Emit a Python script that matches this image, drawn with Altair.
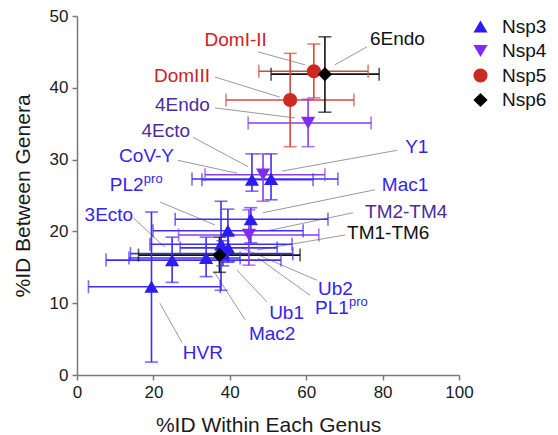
import altair as alt
import pandas as pd

# ---------------- data ----------------
groups = ["Nsp3"] * 10 + ["Nsp4"] * 3 + ["Nsp5"] * 2 + ["Nsp6"] * 2
names = ["HVR", "3Ecto", "Mac2", "PL2pro", "PL1pro", "Ub2", "Ub1", "Mac1", "CoV-Y", "Y1",
         "4Endo", "4Ecto", "TM2-TM4",
         "DomI-II", "DomIII",
         "6Endo", "TM1-TM6"]
x_within = [19.5, 24.9, 33.8, 39.5, 37.7, 39.6, 38.2, 45.5, 45.8, 50.8,
            60.5, 48.7, 45.0,
            62.0, 55.8,
            64.9, 37.3]
y_between = [12.3, 16.0, 16.3, 20.1, 18.2, 17.7, 16.9, 21.7, 27.2, 27.3,
             35.1, 27.9, 19.5,
             42.3, 38.3,
             41.9, 16.7]
x_low = [3.0, 7.6, 13.6, 19.9, 19.1, 27.0, 14.0, 25.7, 32.7, 30.1,
         44.8, 33.5, 26.6,
         47.6, 39.0,
         50.8, 16.1]
x_high = [37.5, 53.4, 42.7, 59.2, 56.3, 52.4, 56.5, 65.7, 61.8, 68.3,
          77.0, 64.9, 63.3,
          76.2, 72.5,
          79.1, 58.4]
y_low = [1.8, 12.9, 13.7, 15.7, 11.8, 15.8, 15.2, 18.4, 25.6, 24.4,
         31.8, 24.2, 15.3,
         38.6, 31.8,
         36.6, 14.3]
y_high = [22.7, 19.2, 19.2, 23.1, 24.2, 19.6, 18.7, 23.3, 30.8, 30.8,
          38.4, 30.8, 23.0,
          46.1, 44.8,
          47.1, 19.2]

# label texts and anchors (data units)
label_text = ["HVR", "3Ecto", "Mac2", "PL2", "PL1", "Ub2", "Ub1", "Mac1", "CoV-Y", "Y1",
              "4Endo", "4Ecto", "TM2-TM4",
              "DomI-II", "DomIII",
              "6Endo", "TM1-TM6"]
label_sup = ["", "", "", "pro", "pro", "", "", "", "", "",
             "", "", "",
             "", "",
             "", ""]
label_x = [27.7, 14.7, 45.0, 8.6, 62.3, 63.1, 50.3, 79.8, 25.4, 85.9,
           34.8, 29.6, 75.4,
           49.7, 34.8,
           76.7, 70.7]
label_y = [3.1, 22.3, 5.7, 26.5, 9.3, 12.0, 8.6, 26.5, 30.5, 31.8,
           37.6, 34.0, 22.7,
           46.7, 41.6,
           46.8, 19.8]
label_align = ["left", "right", "left", "left", "left", "left", "left", "left", "right", "left",
               "right", "right", "left",
               "right", "right",
               "left", "left"]
# leader lines (data units)
line_x1 = [27.5, 14.7, 44.0, 21.7, 61.0, 62.8, 49.7, 78.0, 26.4, 83.8,
           36.1, 30.4, 72.3,
           47.4, 36.1,
           75.9, 70.2]
line_y1 = [4.5, 21.9, 7.7, 24.1, 11.1, 13.2, 10.2, 25.8, 29.9, 31.3,
           37.2, 33.1, 22.6,
           45.0, 41.5,
           45.7, 19.5]
line_x2 = [21.7, 23.0, 36.1, 36.1, 47.4, 42.7, 41.9, 48.7, 41.9, 53.7,
           57.1, 44.8, 50.0,
           59.7, 53.1,
           67.5, 47.1]
line_y2 = [10.0, 17.8, 14.2, 20.9, 16.3, 17.8, 14.6, 22.6, 28.1, 28.4,
           35.8, 29.0, 20.1,
           43.2, 38.7,
           43.2, 17.4]

group_order = ["Nsp3", "Nsp4", "Nsp5", "Nsp6"]
marker_colors = ["#2d1cf0", "#7f2cf2", "#cc2a20", "#000000"]
bar_colors = {"Nsp3": "#3f2ef5", "Nsp4": "#8a3af4", "Nsp5": "#d44a3e", "Nsp6": "#111111"}
text_colors = {"Nsp3": "#3623f0", "Nsp4": "#4d2a9e", "Nsp5": "#cc2222", "Nsp6": "#111111"}
shapes = ["triangle-up", "triangle-down", "circle", "diamond"]
sizes = [200, 200, 120, 170]

# ---------------- tables ----------------
pts = pd.DataFrame({
    "group": groups, "name": names, "x": x_within, "y": y_between,
    "xlo": x_low, "xhi": x_high, "ylo": y_low, "yhi": y_high,
})
pts["bar_color"] = pts["group"].map(bar_colors)

caps_h = pd.concat([
    pd.DataFrame({"group": groups, "cx": x_low, "cy": y_between}),
    pd.DataFrame({"group": groups, "cx": x_high, "cy": y_between}),
])
caps_h["bar_color"] = caps_h["group"].map(bar_colors)
caps_v = pd.concat([
    pd.DataFrame({"group": groups, "cx": x_within, "cy": y_low}),
    pd.DataFrame({"group": groups, "cx": x_within, "cy": y_high}),
])
caps_v["bar_color"] = caps_v["group"].map(bar_colors)

labels = pd.DataFrame({
    "group": groups, "text": label_text, "sup": label_sup,
    "lx": label_x, "ly": label_y, "align": label_align,
    "x1": line_x1, "y1": line_y1, "x2": line_x2, "y2": line_y2,
})
labels["text_color"] = labels["group"].map(text_colors)

FONT = "Liberation Sans"
xs = alt.Scale(domain=[0, 100], nice=False, zero=False)
ys = alt.Scale(domain=[0, 50], nice=False, zero=False)
xaxis = alt.Axis(title="%ID Within Each Genus", values=[0, 20, 40, 60, 80, 100],
                 grid=False, tickSize=5, labelPadding=4, titlePadding=14)
yaxis = alt.Axis(title="%ID Between Genera", values=[0, 10, 20, 30, 40, 50],
                 grid=False, tickSize=5, labelPadding=4, titlePadding=16)


def X(f):
    return alt.X(f, type="quantitative", scale=xs, axis=xaxis)


def Y(f):
    return alt.Y(f, type="quantitative", scale=ys, axis=yaxis)


base_pts = alt.Chart(pts)

leaders = alt.Chart(labels).mark_rule(color="#9a9a9a", strokeWidth=1).encode(
    x=X("x1"), y=Y("y1"), x2="x2", y2="y2")

hbars = base_pts.mark_rule(strokeWidth=1.6).encode(
    x=X("xlo"), x2="xhi", y=Y("y"), color=alt.Color("bar_color:N", scale=None))
vbars = base_pts.mark_rule(strokeWidth=1.6).encode(
    x=X("x"), y=Y("ylo"), y2="yhi", color=alt.Color("bar_color:N", scale=None))
hcaps = alt.Chart(caps_h).mark_tick(orient="vertical", size=13, thickness=1.6).encode(
    x=X("cx"), y=Y("cy"), color=alt.Color("bar_color:N", scale=None))
vcaps = alt.Chart(caps_v).mark_tick(orient="horizontal", size=13, thickness=1.6).encode(
    x=X("cx"), y=Y("cy"), color=alt.Color("bar_color:N", scale=None))

leg = alt.Legend(title=None, orient="none", legendX=394, legendY=1,
                 labelFontSize=19, labelFont=FONT, labelColor="#111",
                 rowPadding=4.5, labelOffset=12, padding=0, symbolStrokeWidth=0,
                 symbolOpacity=1, symbolSize=175)
points = base_pts.mark_point(filled=True, opacity=1, fillOpacity=1, strokeWidth=0).encode(
    x=X("x"), y=Y("y"),
    color=alt.Color("group:N", scale=alt.Scale(domain=group_order, range=marker_colors), legend=leg),
    shape=alt.Shape("group:N", scale=alt.Scale(domain=group_order, range=shapes), legend=leg),
    size=alt.Size("group:N", scale=alt.Scale(domain=group_order, range=sizes), legend=None),
    order=alt.Order("group:N"),
)

text_left = alt.Chart(labels).transform_filter(alt.datum.align == "left").mark_text(
    align="left", baseline="middle", fontSize=19, font=FONT).encode(
    x=X("lx"), y=Y("ly"), text="text:N", color=alt.Color("text_color:N", scale=None))
text_right = alt.Chart(labels).transform_filter(alt.datum.align == "right").mark_text(
    align="right", baseline="middle", fontSize=19, font=FONT).encode(
    x=X("lx"), y=Y("ly"), text="text:N", color=alt.Color("text_color:N", scale=None))
text_sup = alt.Chart(labels).transform_filter(alt.datum.sup != "").mark_text(
    align="left", baseline="middle", fontSize=13, font=FONT, dx=34, dy=-6).encode(
    x=X("lx"), y=Y("ly"), text="sup:N", color=alt.Color("text_color:N", scale=None))

chart = alt.layer(
    leaders, hbars, vbars, hcaps, vcaps, points, text_left, text_right, text_sup
).properties(
    width=382, height=359,
    padding={"left": 69, "top": 8, "right": 91, "bottom": 60},
    autosize=alt.AutoSizeParams(type="none"),
).configure_view(stroke=None).configure_axis(
    domainColor="#7a7a7a", domainWidth=1.5, tickColor="#7a7a7a", tickWidth=1.5,
    labelFont=FONT, labelFontSize=17, labelColor="#1a1a1a",
    titleFont=FONT, titleFontSize=21, titleFontWeight="normal", titleColor="#1a1a1a",
).configure_axisX(labelFlush=False).configure_axisY(labelFlush=False).configure_legend(
    symbolOpacity=1
)

chart.save("out.html", embed_options={"renderer": "svg", "actions": False})
